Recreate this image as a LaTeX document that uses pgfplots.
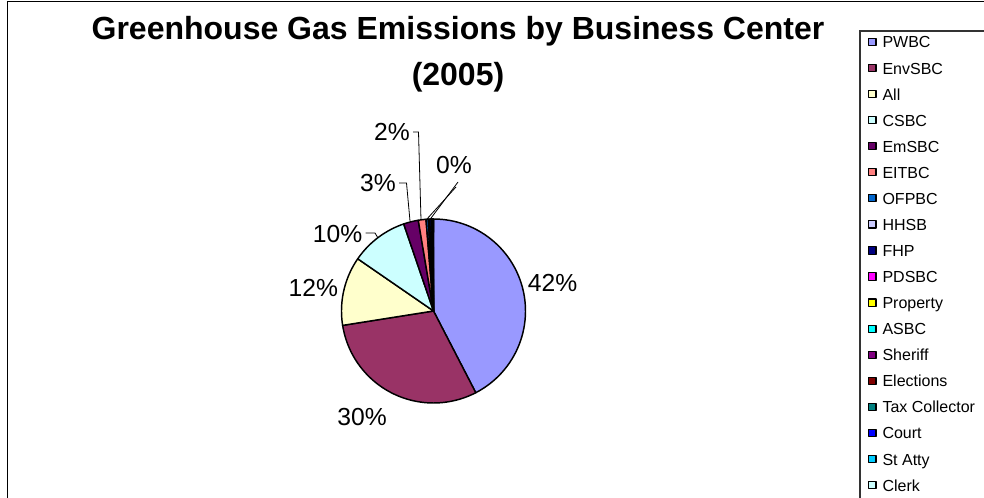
\documentclass[border=0pt]{standalone}
\usepackage{pgfplots}
\usepackage{pgfplotstable}
\pgfplotsset{compat=1.18}
\usepackage{fontspec}
\setmainfont{Liberation Sans}

\definecolor{cPWBC}{HTML}{9999FF}
\definecolor{cEnvSBC}{HTML}{993366}
\definecolor{cAll}{HTML}{FFFFCC}
\definecolor{cCSBC}{HTML}{CCFFFF}
\definecolor{cEmSBC}{HTML}{660066}
\definecolor{cEITBC}{HTML}{FF8080}
\definecolor{cOFPBC}{HTML}{0066CC}
\definecolor{cHHSB}{HTML}{CCCCFF}
\definecolor{cFHP}{HTML}{000080}
\definecolor{cPDSBC}{HTML}{FF00FF}
\definecolor{cProperty}{HTML}{FFFF00}
\definecolor{cASBC}{HTML}{00FFFF}
\definecolor{cSheriff}{HTML}{800080}
\definecolor{cElections}{HTML}{800000}
\definecolor{cTax}{HTML}{008080}
\definecolor{cCourt}{HTML}{0000FF}
\definecolor{cStAtty}{HTML}{00CCFF}
\definecolor{cClerk}{HTML}{CCFFFF}

\pgfplotstableread[col sep=comma]{
name,value,color
PWBC,42.4,cPWBC
EnvSBC,30.1,cEnvSBC
All,12.1,cAll
CSBC,10.15,cCSBC
EmSBC,2.6,cEmSBC
EITBC,1.35,cEITBC
OFPBC,0.4,cOFPBC
HHSB,0.15,cHHSB
FHP,0.35,cFHP
PDSBC,0.1,cPDSBC
Property,0.06,cProperty
ASBC,0.05,cASBC
Sheriff,0.04,cSheriff
Elections,0.03,cElections
Tax Collector,0.03,cTax
Court,0.03,cCourt
St Atty,0.03,cStAtty
Clerk,0.03,cClerk
}\piedata

\begin{document}
\begin{tikzpicture}
\begin{axis}[
  at={(0,0)}, anchor=origin,
  scale only axis, width=738pt, height=373.5pt,
  xmin=0, xmax=984, ymin=0, ymax=498,
  hide axis, clip=false,
  legend cell align=left,
  legend style={draw=none, fill=none, at={(0.88211,0.92832)}, anchor=north west,
    inner sep=0pt, row sep=7.95pt, column sep=4.5pt,
    font=\fontsize{12}{14}\selectfont,
    nodes={inner sep=0pt, text height=9pt, text depth=2.6pt}},
  legend image code/.code={\draw[#1, draw=black, line width=0.8pt] (0pt,-1.4pt) rectangle (5.4pt,4.0pt);},
]
\pgfplotstablegetrowsof{\piedata}
\pgfmathtruncatemacro{\lastrow}{\pgfplotsretval-1}
\gdef\cum{0}
\pgfplotsforeachungrouped \i in {0,...,\lastrow}{%
  \pgfplotstablegetelem{\i}{value}\of\piedata \let\val\pgfplotsretval
  \pgfplotstablegetelem{\i}{name}\of\piedata \let\nm\pgfplotsretval
  \pgfplotstablegetelem{\i}{color}\of\piedata \let\col\pgfplotsretval
  \pgfmathsetmacro{\aStart}{90-3.6*\cum}
  \pgfmathsetmacro{\cumNew}{\cum+\val}
  \pgfmathsetmacro{\aEnd}{90-3.6*\cumNew}
  \edef\doplot{\noexpand\addplot[fill=\col, draw=black, line width=1.1pt, line join=round, domain=\aEnd:\aStart, samples=60] ({433.5+92*cos(x)},{187+92*sin(x)}) -- (axis cs:433.5,187) -- cycle;}
  \doplot
  \addlegendentryexpanded{\nm}
  \global\let\cum\cumNew
}

% outer border and legend border
\draw[black, line width=1.3pt] (axis cs:7.5,-5) -- (axis cs:7.5,496.5) -- (axis cs:990,496.5);
\draw[black!80, line width=0.9pt] (axis cs:860,-5) -- (axis cs:860,467) -- (axis cs:990,467);

% title
\node[font=\bfseries\fontsize{24}{28}\selectfont] at (axis cs:458,467) {Greenhouse Gas Emissions by Business Center};
\node[font=\bfseries\fontsize{24}{28}\selectfont] at (axis cs:458,421) {(2005)};

% percentage labels
\begin{scope}[every node/.style={font=\fontsize{18.5}{22}\selectfont}]
\node at (axis cs:552.5,215.5) {42\%};
\node at (axis cs:362,80.5) {30\%};
\node at (axis cs:313.3,210.5) {12\%};
\node at (axis cs:337.5,264) {10\%};
\node at (axis cs:378,315) {3\%};
\node at (axis cs:392,366) {2\%};
\node at (axis cs:454,333) {0\%};
\end{scope}

% leader lines
\draw[black, line width=0.6pt] (axis cs:413,366) -- (axis cs:418.5,366) -- (axis cs:421,278);
\draw[black, line width=0.6pt] (axis cs:399,315) -- (axis cs:406.5,315) -- (axis cs:410,277);
\draw[black, line width=0.6pt] (axis cs:365.5,265) -- (axis cs:375,265) -- (axis cs:378,260);
\draw[black, line width=0.6pt] (axis cs:458,316) -- (axis cs:430,278.5);
\draw[black, line width=0.6pt] (axis cs:456,311) -- (axis cs:426.5,278.5);
\end{axis}
\pgfresetboundingbox
\useasboundingbox (0,0) rectangle (738pt,373.5pt);
\end{tikzpicture}
\end{document}
